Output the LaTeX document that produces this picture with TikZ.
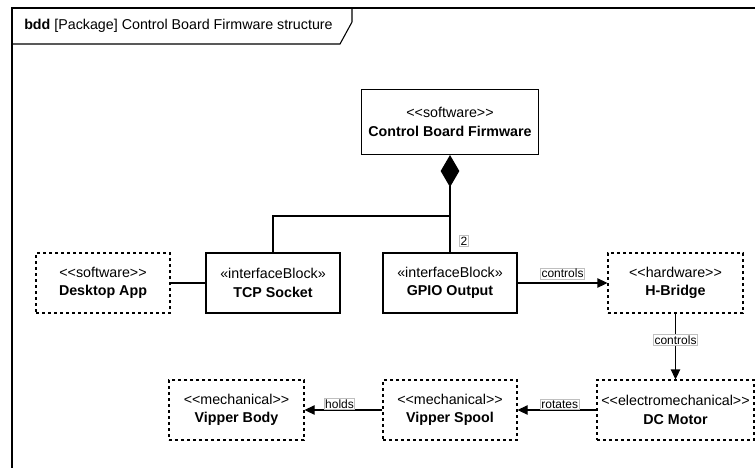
\documentclass[tikz,border=0pt]{standalone}
\usepackage{fontspec}
\setmainfont{Liberation Sans}
\usepackage{tikz}
\usetikzlibrary{arrows.meta}
\newcommand{\stereo}[1]{<\kern0pt<#1>\kern0pt>}

\begin{document}
\begin{tikzpicture}[x=0.75pt,y=-0.75pt,
  block/.style={draw,line width=0.8pt,minimum width=100.5pt,minimum height=45pt,
    align=center,inner sep=0pt,font=\fontsize{10.7}{13.8}\selectfont},
  dblock/.style={block,dash pattern=on 2.6pt off 1.9pt},
  lbl/.style={draw=black!25,fill=white,inner sep=0.8pt,font=\fontsize{9}{10}\selectfont},
  assoc/.style={line width=0.8pt,-{Triangle[length=7.5pt,width=7pt]}}]
\useasboundingbox (0,0) rectangle (755,468);
%frame
\draw[line width=1pt] (755,8) -- (12,8) -- (12,468);
\draw[line width=0.8pt] (12,44) -- (340,44) -- (352,22) -- (352,8);
\node[anchor=west,inner sep=0pt,font=\fontsize{10.7}{12}\selectfont] (title) at (24,26)
  {\textbf{bdd} [Package] Control Board Firmware structure};
%blocks
\node[block,minimum width=132.75pt,minimum height=48.75pt] (fw) at (450,122)
  {\stereo{software}\\\textbf{Control Board Firmware}};
\node[dblock] (app) at (103,283) {\stereo{software}\\\textbf{Desktop App}};
\node[block] (tcp) at (273,283) {«interfaceBlock»\\\textbf{TCP Socket}};
\node[block] (gpio) at (450,283) {«interfaceBlock»\\\textbf{GPIO Output}};
\node[dblock,minimum width=101.25pt] (hb) at (675.5,283) {\stereo{hardware}\\\textbf{H-Bridge}};
\node[dblock,minimum width=101.25pt] (body) at (236.5,410) {\stereo{mechanical}\\\textbf{Vipper Body}};
\node[dblock] (spool) at (450,410) {\stereo{mechanical}\\\textbf{Vipper Spool}};
\node[dblock,minimum width=117.75pt] (motor) at (675.5,410)
  {\stereo{electromechanical}\\\textbf{DC Motor}};
%composition
\coordinate (j) at (450,216);
\draw[line width=0.8pt,{Diamond[length=24pt,width=14pt]}-] (fw.south) -- (gpio.north);
\draw[line width=0.8pt] (tcp.north) |- (j);
\node[lbl] (mult) at (464,241) {2};
%links
\draw[line width=0.8pt] (app) -- (tcp);
\draw[assoc] (gpio) -- (hb) node[lbl,midway,above=2.5pt] (ctl1) {controls};
\draw[assoc] (hb) -- (motor) node[lbl,pos=0.4] (ctl2) {controls};
\draw[assoc] (motor) -- (spool) node[lbl,midway,above=0pt,xshift=2pt] (rot) {rotates};
\draw[assoc] (spool) -- (body) node[lbl,midway,above=0pt,xshift=-3pt] (hold) {holds};
\end{tikzpicture}
\end{document}
